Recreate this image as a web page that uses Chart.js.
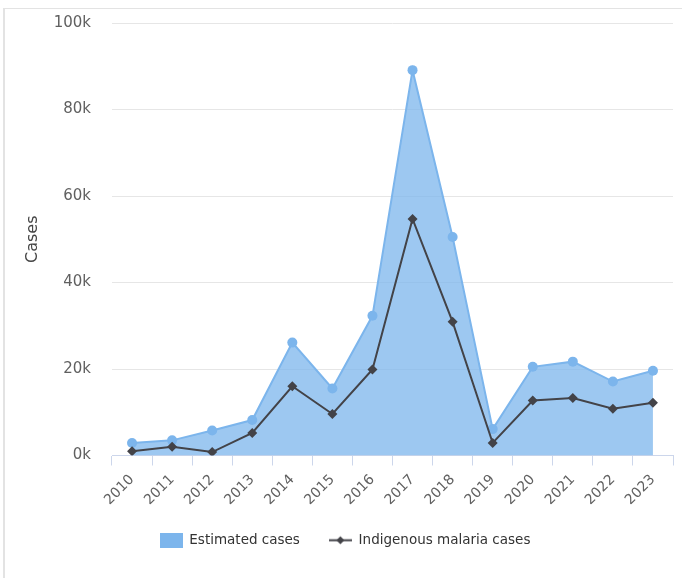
<!DOCTYPE html>
<html>
<head>
<meta charset="utf-8">
<script src="https://cdn.jsdelivr.net/npm/chart.js@4.4.0/dist/chart.umd.min.js"></script>
<style>
  html, body { margin: 0; padding: 0; background: #fff; }
  #wrap { position: relative; width: 682px; height: 578px; }
</style>
</head>
<body>
<div id="wrap"><canvas id="grafico" width="682" height="578"></canvas></div>
<script>
var years = ['2010', '2011', '2012', '2013', '2014', '2015', '2016',
             '2017', '2018', '2019', '2020', '2021', '2022', '2023'];
var estimatedCases = [2900, 3500, 5800, 8200, 26100, 15500, 32300,
                      89100, 50500, 6100, 20500, 21700, 17100, 19600];
var indigenousCases = [1000, 2000, 800, 5200, 16000, 9600, 19900,
                       54700, 30900, 2900, 12700, 13300, 10800, 12200];
var yTicks = [0, 20000, 40000, 60000, 80000, 100000];

var font = 'DejaVu Sans';

// legend symbols
function legendBox() {
    var c = document.createElement('canvas');
    c.width = 23; c.height = 15;
    var g = c.getContext('2d');
    g.fillStyle = '#7cb5ec';
    g.fillRect(0, 0, 23, 15);
    return c;
}
function legendLine() {
    var c = document.createElement('canvas');
    c.width = 23; c.height = 11;
    var g = c.getContext('2d');
    g.strokeStyle = '#434348';
    g.lineWidth = 2;
    g.beginPath(); g.moveTo(0, 5.5); g.lineTo(23, 5.5); g.stroke();
    g.fillStyle = '#434348';
    g.beginPath();
    g.moveTo(11.5, 1.5); g.lineTo(15.5, 5.5); g.lineTo(11.5, 9.5); g.lineTo(7.5, 5.5);
    g.closePath(); g.fill();
    return c;
}

var frame = {
    id: 'frame',
    beforeDraw: function(chart) {
        var c = chart.ctx;
        c.save();
        c.strokeStyle = '#e3e3e3';
        c.lineWidth = 2;
        c.beginPath(); c.moveTo(4, 8); c.lineTo(4, 578); c.stroke();
        c.lineWidth = 1;
        c.beginPath(); c.moveTo(4, 8.5); c.lineTo(682, 8.5); c.stroke();
        c.restore();
    }
};

var ctx = document.getElementById('grafico').getContext('2d');
var grafico = new Chart(ctx, {
    type: 'line',
    data: {
        labels: years,
        datasets: [{
            label: 'Estimated cases',
            data: estimatedCases,
            order: 2,
            fill: 'origin',
            borderColor: '#7cb5ec',
            borderWidth: 2,
            backgroundColor: 'rgba(124, 181, 236, 0.75)',
            pointStyle: 'circle',
            pointRadius: 5,
            pointBorderWidth: 0,
            pointBackgroundColor: '#7cb5ec',
            tension: 0
        }, {
            label: 'Indigenous malaria cases',
            data: indigenousCases,
            order: 1,
            fill: false,
            borderColor: '#434348',
            borderWidth: 2,
            pointStyle: 'rectRot',
            pointRadius: 5,
            pointBorderWidth: 0,
            pointBackgroundColor: '#434348',
            tension: 0
        }]
    },
    options: {
        responsive: false,
        animation: false,
        layout: { padding: { left: 17, right: 9, top: 23, bottom: 21 } },
        plugins: {
            tooltip: { enabled: false },
            legend: {
                position: 'bottom',
                labels: {
                    usePointStyle: true,
                    pointStyleWidth: 23,
                    boxHeight: 15,
                    padding: 29,
                    color: '#333333',
                    font: { family: font, size: 13.5 },
                    generateLabels: function(chart) {
                        return [
                            { text: 'Estimated cases', pointStyle: legendBox(), fillStyle: '#7cb5ec',
                              strokeStyle: '#7cb5ec', lineWidth: 0, datasetIndex: 0, fontColor: '#333333' },
                            { text: 'Indigenous malaria cases', pointStyle: legendLine(), fillStyle: '#434348',
                              strokeStyle: '#434348', lineWidth: 0, datasetIndex: 1, fontColor: '#333333' }
                        ];
                    }
                }
            }
        },
        scales: {
            x: {
                offset: true,
                grid: {
                    offset: true,
                    drawOnChartArea: false,
                    drawTicks: true,
                    tickLength: 10,
                    color: '#ccd6eb'
                },
                border: { display: true, color: '#ccd6eb', width: 1 },
                ticks: {
                    minRotation: 45,
                    maxRotation: 45,
                    padding: 6,
                    color: '#606060',
                    font: { family: font, size: 14 }
                },
                afterFit: function(scale) {
                    scale.height = 49;
                    scale.paddingLeft = 0;
                    scale.paddingRight = 0;
                }
            },
            y: {
                min: 0,
                max: 100000,
                afterBuildTicks: function(scale) {
                    scale.ticks = yTicks.map(function(v) { return { value: v }; });
                },
                grid: { color: '#e6e6e6', drawTicks: false },
                border: { display: false },
                ticks: {
                    padding: 21,
                    color: '#606060',
                    font: { family: font, size: 15 },
                    callback: function(v) { return (v / 1000) + 'k'; }
                },
                title: {
                    display: true,
                    text: 'Cases',
                    color: '#444444',
                    padding: { top: 6, bottom: 0 },
                    font: { family: font, size: 16 }
                },
                afterFit: function(scale) {
                    scale.width = 95;
                    scale.paddingTop = 0;
                    scale.paddingBottom = 0;
                }
            }
        }
    },
    plugins: [frame]
});
</script>
</body>
</html>
